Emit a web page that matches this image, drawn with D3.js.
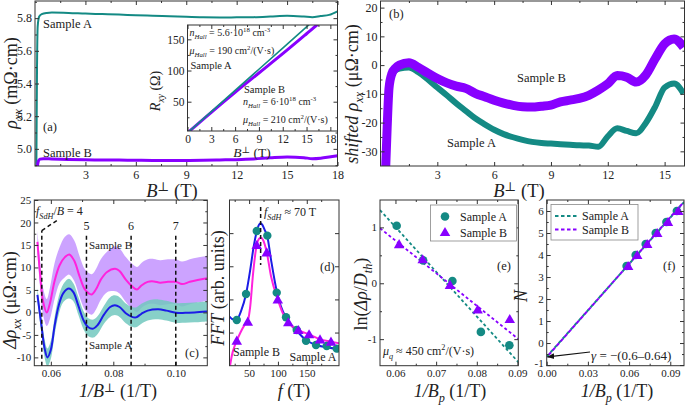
<!DOCTYPE html>
<html><head><meta charset="utf-8">
<script src="https://cdn.jsdelivr.net/npm/d3@7"></script>
<style>
body{margin:0;background:#fff;}
svg text, svg tspan{font-family:'Liberation Serif','Times New Roman','DejaVu Serif',serif !important;fill:#222;}
</style></head><body>
<svg id="c" width="685" height="406"></svg>
<script>
// ================= DATA =================
// (a) rho_xx vs B
const aB_A   = [0.08, 0.12, 0.16, 0.25, 0.4, 0.7, 1, 2, 3, 4, 5, 6, 7, 8, 9, 10, 11, 12, 13, 14, 15, 16, 16.5, 17, 17.5, 18];
const aRho_A = [4.88, 5.5, 5.75, 5.81, 5.825, 5.832, 5.834, 5.832, 5.828, 5.825, 5.822, 5.818, 5.815, 5.812, 5.808, 5.805, 5.804, 5.805, 5.806, 5.81, 5.815, 5.81, 5.806, 5.813, 5.82, 5.842];
const aB_B   = [0.12, 0.2, 0.3, 0.5, 1, 2, 3, 4, 5, 6, 7, 8, 9, 10, 11, 12, 13, 14, 15, 16, 16.5, 17, 17.5, 18];
const aRho_B = [4.88, 4.925, 4.937, 4.94, 4.938, 4.935, 4.933, 4.932, 4.931, 4.93, 4.929, 4.929, 4.929, 4.93, 4.932, 4.934, 4.938, 4.945, 4.95, 4.946, 4.94, 4.943, 4.95, 4.958];
// (a) inset R_xy vs B
const inB_A = [0, 3, 6, 9, 12, 15, 16.5];
const inR_A = [0, 34, 68, 102, 136, 170, 187];
const inB_B = [0, 3, 6, 9, 12, 15, 16.3, 18];
const inR_B = [0, 33, 65, 96, 127, 159, 173, 190];
// (b) shifted rho_xx
const bB     = [0.25, 0.35, 0.45, 0.6, 0.8, 1.0, 1.5, 2, 2.5, 3, 3.5, 4, 4.5, 5, 5.5, 6, 6.5, 7, 7.5, 8, 8.5, 9, 9.5, 10, 10.5, 11, 11.5, 12, 12.5, 13, 13.5, 14, 14.5, 15, 15.5, 16];
const bRho_B = [-40, -22, -8, -3, -1, 0, 0.8, -0.8, -2.8, -4.7, -6.2, -7.3, -8.1, -9.8, -11, -12.2, -13.2, -14, -14.5, -14.6, -14.3, -13.9, -12.8, -12.2, -11.6, -10.5, -8.7, -6.5, -3.6, -4.2, -5.9, -3.5, 2.2, 7.4, 9.1, 6.2];
const bRho_A = [-40, -22, -8, -3.5, -1.8, -1.2, -0.8, -2.5, -5, -7.8, -10.5, -13.3, -15.9, -18.5, -20.6, -22.5, -24, -25.1, -26, -26.7, -27.1, -27.3, -27.5, -27.7, -27.9, -28.0, -28.4, -24.8, -22, -22.9, -23.7, -20.2, -14.5, -7.8, -6.4, -9.9];
// (c) oscillations vs 1/B
const cA_x  = [0.0557, 0.0571, 0.0580, 0.0589, 0.0600, 0.0612, 0.0625, 0.0640, 0.0658, 0.0672, 0.0688, 0.0705, 0.0720, 0.0736, 0.0750, 0.0770, 0.0790, 0.0805, 0.0820, 0.0840, 0.0860, 0.0873, 0.0890, 0.0910, 0.0944, 0.0970, 0.1000, 0.1030, 0.1060, 0.1100];
const cA_y  = [3.9, -3.5, -8, -10, -8.3, -3, 1.5, 4.3, 5.3, 4.5, 1.5, -1.8, -3.3, -3.6, -2.8, -0.5, 1.2, 1.6, 1.2, -0.2, -1.0, -1.1, -0.3, 0.4, 0.7, 0.4, -0.1, -0.1, 0.0, 0.2];
const cA_hw = [1.5, 1.8, 2, 2, 2, 2, 2, 2, 2.2, 2, 2, 2, 2, 2, 2, 2, 2.2, 2.2, 2.2, 2.2, 2.2, 2.2, 2.2, 2.2, 2.2, 2.2, 2.2, 2.2, 2.2, 2.2];
const cB_x  = [0.0557, 0.0565, 0.0575, 0.0587, 0.0597, 0.0612, 0.0628, 0.0645, 0.0659, 0.0675, 0.0692, 0.0710, 0.0731, 0.0745, 0.0760, 0.0780, 0.0806, 0.0820, 0.0840, 0.0860, 0.0876, 0.0890, 0.0910, 0.0930, 0.0950, 0.0975, 0.1000, 0.1020, 0.1045, 0.1070, 0.1100];
const cB_y  = [15.7, 9, 2.5, 0.0, 2, 7, 10.5, 12.3, 12.9, 11.5, 8, 5, 4.0, 5.2, 7.3, 9.0, 9.7, 9.2, 7.3, 5.8, 5.1, 6.0, 6.8, 6.9, 6.6, 6.8, 6.8, 6.3, 6.8, 7.2, 7.6];
const cB_hw = [2.5, 3, 3, 3, 3.5, 4, 4, 4.5, 4.5, 4.5, 4.5, 4.5, 4.5, 4.5, 4.5, 4.5, 5, 5, 5, 5, 5, 5, 5, 5, 5, 5, 5, 5, 5, 5, 5];
const cN    = ["4", "5", "6", "7"];
const cN_x  = [0.0571, 0.0714, 0.0857, 0.1000];
// (d) FFT
const dA_f  = [28.6, 44.7, 63.3, 81.6, 97.9, 114, 132.6, 148.7, 166, 184.6, 201.9];
const dA_a  = [0.276, 0.433, 0.813, 0.785, 0.441, 0.292, 0.215, 0.151, 0.125, 0.119, 0.103];
const dB_f  = [28.6, 47.7, 63.3, 80.6, 99.7, 118, 135.4, 154, 173, 192];
const dB_a  = [0.151, 0.266, 0.728, 0.684, 0.40, 0.262, 0.215, 0.19, 0.159, 0.145];
const dA_cf = [16, 22, 28.6, 36, 44.7, 52, 58, 63.3, 67, 70, 73, 77, 81.6, 88, 97.9, 105, 114, 123, 132.6, 148.7, 166, 184.6, 206];
const dA_ca = [0.296, 0.28, 0.28, 0.33, 0.433, 0.58, 0.72, 0.81, 0.85, 0.86, 0.85, 0.82, 0.78, 0.64, 0.45, 0.36, 0.29, 0.245, 0.21, 0.155, 0.125, 0.112, 0.1];
const dB_cf = [17, 20, 24, 28.6, 35, 42, 47.7, 52, 57, 63.3, 67, 70, 74, 80.6, 88, 99.7, 108, 118, 135.4, 154, 173, 192, 206];
const dB_ca = [0.0, 0.06, 0.11, 0.15, 0.2, 0.245, 0.27, 0.36, 0.56, 0.73, 0.765, 0.772, 0.76, 0.684, 0.54, 0.40, 0.32, 0.262, 0.215, 0.189, 0.159, 0.145, 0.135];
const fSdH = 70;
// (e) Dingle plot
const eA_x = [0.0603, 0.0668, 0.0740, 0.0810, 0.0880];
const eA_y = [1.03, 0.41, 0.04, -0.87, -1.11];
const eB_x = [0.0609, 0.0667, 0.0734, 0.0802, 0.0881];
const eB_y = [0.70, 0.43, -0.03, -0.47, -0.64];
const eFitA_x = [0.0562, 0.0902], eFitA_y = [1.31, -1.41];
const eFitB_x = [0.0562, 0.0902], eFitB_y = [0.985, -0.997];
// (f) Landau fan
const fX = [0.0593, 0.0659, 0.0732, 0.0805, 0.0883, 0.0959];
const fN = [3.5, 4, 4.5, 5, 5.5, 6];
const fFitA_x = [0, 0.1], fFitA_y = [-0.62, 6.4];
const fFitB_x = [0, 0.1], fFitB_y = [-0.64, 6.42];

// ================= STYLE =================
const TEAL = "#148a84", PURPLE = "#8800ff", BLUE = "#1c1ce6", MAG = "#ff22dd";
const LPURPLE = "#c393ff", LTEAL = "#72c8be";
const SERIF = "'Liberation Serif','Times New Roman','DejaVu Serif',serif";
const svg = d3.select("#c");
const zip = (a, b) => a.map((v, i) => [v, b[i]]);
let clipN = 0;

function panel(o) {
  const g = svg.append("g");
  const x = d3.scaleLinear().domain(o.xd).range([o.x0, o.x1]);
  const y = d3.scaleLinear().domain(o.yd).range([o.y1, o.y0]);
  const id = "clip" + (clipN++);
  svg.append("clipPath").attr("id", id).append("rect")
    .attr("x", o.x0).attr("y", o.y0).attr("width", o.x1 - o.x0).attr("height", o.y1 - o.y0);
  if (o.bg) g.append("rect").attr("x", o.x0).attr("y", o.y0).attr("width", o.x1 - o.x0).attr("height", o.y1 - o.y0).attr("fill", "#fff");
  const plot = g.append("g").attr("clip-path", `url(#${id})`);
  const ax = g.append("g");
  const fs = o.fs || 11;
  function put(gen, tr, labels) {
    const a = ax.append("g").attr("transform", tr).call(gen);
    a.select(".domain").remove();
    a.selectAll("line").attr("stroke", "#333");
    a.selectAll("text").attr("font-size", fs).style("font-family", SERIF);
    if (!labels) a.selectAll("text").remove();
    return a;
  }
  put(d3.axisBottom(x).tickValues(o.xt).tickSize(-4).tickPadding(4).tickFormat(o.fx || (d => d)), `translate(0,${o.y1})`, !o.noXlab);
  put(d3.axisBottom(x).tickValues(o.xm || []).tickSize(-2), `translate(0,${o.y1})`, false);
  put(d3.axisTop(x).tickValues(o.xt).tickSize(-4), `translate(0,${o.y0})`, false);
  put(d3.axisTop(x).tickValues(o.xm || []).tickSize(-2), `translate(0,${o.y0})`, false);
  const yl = put(d3.axisLeft(y).tickValues(o.yt).tickSize(-4).tickPadding(3).tickFormat(o.fy || (d => d)), `translate(${o.x0},0)`, !o.noYlab);
  if (o.yLabShift) yl.selectAll("text").attr("dy", (d) => d === o.yLabShift[0] ? o.yLabShift[1] : "0.32em");
  put(d3.axisLeft(y).tickValues(o.ym || []).tickSize(-2), `translate(${o.x0},0)`, false);
  put(d3.axisRight(y).tickValues(o.yt).tickSize(-4), `translate(${o.x1},0)`, false);
  put(d3.axisRight(y).tickValues(o.ym || []).tickSize(-2), `translate(${o.x1},0)`, false);
  ax.append("rect").attr("x", o.x0).attr("y", o.y0).attr("width", o.x1 - o.x0).attr("height", o.y1 - o.y0)
    .attr("fill", "none").attr("stroke", "#333").attr("stroke-width", 1);
  return { g, plot, ax, x, y };
}

function rich(parent, x, y, parts, o = {}) {
  const size = o.size || 12;
  const t = parent.append("text").attr("x", x).attr("y", y).attr("font-size", size)
    .attr("text-anchor", o.anchor || "start");
  if (o.rotate) t.attr("transform", `rotate(${o.rotate},${x},${y})`);
  let cur = 0;
  parts.forEach(p => {
    if (typeof p === "string") p = { t: p };
    const sh = p.s === "sub" ? size * 0.3 : p.s === "sup" ? -size * (o.supShift || 0.38) : 0;
    const ts = t.append("tspan").text(p.t).attr("dy", sh - cur);
    cur = sh;
    if (p.s) ts.attr("font-size", size * 0.68);
    if (p.i) ts.attr("font-style", "italic");
  });
  return t;
}
const fmt2 = d => (d < 0 ? "-" : "") + d3.format(".2f")(Math.abs(d));
const fmtI = d => (d < 0 ? "-" : "") + Math.abs(d);
const lineGen = (p, curve) => d3.line().x(d => p.x(d[0])).y(d => p.y(d[1])).curve(curve || d3.curveLinear);

// ================= (a) =================
const pa = panel({ x0: 35, x1: 337.5, y0: 1, y1: 166, xd: [0, 18], yd: [4.895, 5.905],
  xt: [3, 6, 9, 12, 15, 18], xm: [1.5, 4.5, 7.5, 10.5, 13.5, 16.5], yt: [5.0, 5.2, 5.4, 5.6, 5.8],
  ym: [4.9, 5.1, 5.3, 5.5, 5.7, 5.9], fy: d3.format(".1f"), fs: 12 });
pa.plot.append("path").datum(zip(aB_A, aRho_A)).attr("d", lineGen(pa, d3.curveMonotoneX))
  .attr("fill", "none").attr("stroke", TEAL).attr("stroke-width", 2);
pa.plot.append("path").datum(zip(aB_B, aRho_B)).attr("d", lineGen(pa, d3.curveMonotoneX))
  .attr("fill", "none").attr("stroke", PURPLE).attr("stroke-width", 3);
pa.ax.append("text").attr("x", 43).attr("y", 28).attr("font-size", 12.5).text("Sample A");
pa.ax.append("text").attr("x", 43).attr("y", 131).attr("font-size", 12.5).text("(a)");
pa.ax.append("text").attr("x", 43).attr("y", 156.5).attr("font-size", 12.5).text("Sample B");
rich(svg, 17, 83, [{ t: "ρ", i: 1 }, { t: "xx", i: 1, s: "sub" }, " (mΩ·cm)"], { size: 18, anchor: "middle", rotate: -90 });
rich(svg, 172, 197, [{ t: "B", i: 1 }, { t: "⊥", s: "sup" }, " (T)"], { size: 18.5, anchor: "middle", supShift: 0.32 });

// inset
const pi = panel({ x0: 187.5, x1: 337.5, y0: 25, y1: 131, xd: [0, 18.9], yd: [3, 173], bg: true,
  xt: [0, 3, 6, 9, 12, 15, 18], xm: [1.5, 4.5, 7.5, 10.5, 13.5, 16.5], yt: [50, 100, 150], ym: [25, 75, 125], fs: 11.5 });
pi.plot.append("path").datum(zip(inB_B, inR_B)).attr("d", lineGen(pi, d3.curveMonotoneX))
  .attr("fill", "none").attr("stroke", PURPLE).attr("stroke-width", 3);
pi.plot.append("path").datum(zip(inB_A, inR_A)).attr("d", lineGen(pi))
  .attr("fill", "none").attr("stroke", TEAL).attr("stroke-width", 1.6);
rich(pi.ax, 189.5, 36, [{ t: "n", i: 1 }, { t: "Hall", i: 1, s: "sub" }, " = 5.6·10", { t: "18", s: "sup" }, " cm", { t: "-3", s: "sup" }], { size: 10 });
rich(pi.ax, 189.5, 54, [{ t: "μ", i: 1 }, { t: "Hall", i: 1, s: "sub" }, " = 190 cm", { t: "2", s: "sup" }, "/(V·s)"], { size: 10 });
pi.ax.append("text").attr("x", 190.5).attr("y", 69).attr("font-size", 10.5).text("Sample A");
pi.ax.append("text").attr("x", 244).attr("y", 92.5).attr("font-size", 10.5).text("Sample B");
rich(pi.ax, 243, 105, [{ t: "n", i: 1 }, { t: "Hall", i: 1, s: "sub" }, " = 6·10", { t: "18", s: "sup" }, " cm", { t: "-3", s: "sup" }], { size: 10 });
rich(pi.ax, 243, 123, [{ t: "μ", i: 1 }, { t: "Hall", i: 1, s: "sub" }, " = 210 cm", { t: "2", s: "sup" }, "/(V·s)"], { size: 10 });
rich(svg, 160, 91, [{ t: "R", i: 1 }, { t: "xy", i: 1, s: "sub" }, " (Ω)"], { size: 14, anchor: "middle", rotate: -90 });
rich(svg, 252, 157, [{ t: "B", i: 1 }, { t: "⊥", s: "sup" }, " (T)"], { size: 13.5, anchor: "middle", supShift: 0.3 });

// ================= (b) =================
const pb = panel({ x0: 380.5, x1: 684.5, y0: 1, y1: 166, xd: [0, 16.05], yd: [-35.1, 22.3],
  xt: [3, 6, 9, 12, 15], xm: [1.5, 4.5, 7.5, 10.5, 13.5], yt: [-30, -20, -10, 0, 10, 20],
  ym: [-25, -15, -5, 5, 15], fy: fmtI, fs: 12 });
pb.plot.append("path").datum(zip(bB, bRho_A)).attr("d", lineGen(pb, d3.curveMonotoneX))
  .attr("fill", "none").attr("stroke", TEAL).attr("stroke-width", 6).attr("stroke-linejoin", "round");
pb.plot.append("path").datum(zip(bB, bRho_B)).attr("d", lineGen(pb, d3.curveMonotoneX))
  .attr("fill", "none").attr("stroke", PURPLE).attr("stroke-width", 9).attr("stroke-linejoin", "round");
pb.ax.append("text").attr("x", 389).attr("y", 17.5).attr("font-size", 12.5).text("(b)");
pb.ax.append("text").attr("x", 517).attr("y", 81.5).attr("font-size", 12.5).text("Sample B");
pb.ax.append("text").attr("x", 447).attr("y", 147).attr("font-size", 12.5).text("Sample A");
rich(svg, 358, 94, [{ t: "shifted ρ", i: 1 }, { t: "xx", i: 1, s: "sub" }, " (μΩ·cm)"], { size: 18, anchor: "middle", rotate: -90 });
rich(svg, 519, 197, [{ t: "B", i: 1 }, { t: "⊥", s: "sup" }, " (T)"], { size: 18.5, anchor: "middle", supShift: 0.32 });

// ================= (c) =================
const pc = panel({ x0: 34.3, x1: 207.3, y0: 200, y1: 365.7, xd: [0.0547, 0.1101], yd: [-11.85, 25],
  xt: [0.06, 0.08, 0.10], xm: [0.07, 0.09], yt: [-10, -5, 0, 5, 10, 15, 20, 25],
  ym: [-7.5, -2.5, 2.5, 7.5, 12.5, 17.5, 22.5], fx: fmt2, fy: fmtI, fs: 11 });
const areaC = d3.area().x(d => pc.x(d[0])).y0(d => pc.y(d[1] - d[2])).y1(d => pc.y(d[1] + d[2])).curve(d3.curveCatmullRom);
pc.plot.append("path").datum(cB_x.map((v, i) => [v, cB_y[i], cB_hw[i]])).attr("d", areaC)
  .attr("fill", LPURPLE).attr("opacity", 0.85);
pc.plot.append("path").datum(cA_x.map((v, i) => [v, cA_y[i], cA_hw[i]])).attr("d", areaC)
  .attr("fill", LTEAL).attr("opacity", 0.85);
pc.plot.append("path").datum(zip(cA_x, cA_y)).attr("d", lineGen(pc, d3.curveCatmullRom))
  .attr("fill", "none").attr("stroke", BLUE).attr("stroke-width", 2);
pc.plot.append("path").datum(zip(cB_x, cB_y)).attr("d", lineGen(pc, d3.curveCatmullRom))
  .attr("fill", "none").attr("stroke", MAG).attr("stroke-width", 2);
cN_x.forEach((xv, i) => {
  pc.ax.append("line").attr("x1", pc.x(xv)).attr("x2", pc.x(xv)).attr("y1", pc.y(-11.85)).attr("y2", pc.y(i === 0 ? 18.2 : 17.6))
    .attr("stroke", "#111").attr("stroke-width", 1.5).attr("stroke-dasharray", "4,3");
  if (i > 0) pc.ax.append("text").attr("x", pc.x(xv)).attr("y", 230).attr("text-anchor", "middle").attr("font-size", 12).text(cN[i]);
});
pc.ax.append("line").attr("x1", pc.x(cN_x[0])).attr("y1", pc.y(18.2)).attr("x2", pc.x(0.0623)).attr("y2", pc.y(20.6))
  .attr("stroke", "#111").attr("stroke-width", 1.5).attr("stroke-dasharray", "4,3");
rich(pc.ax, 36, 215, [{ t: "f", i: 1 }, { t: "SdH", i: 1, s: "sub" }, "/", { t: "B", i: 1 }, " = " + cN[0]], { size: 12 });
pc.ax.append("text").attr("x", 89).attr("y", 249).attr("font-size", 11).text("Sample B");
pc.ax.append("text").attr("x", 89).attr("y", 348.5).attr("font-size", 11).text("Sample A");
pc.ax.append("text").attr("x", 185).attr("y", 357).attr("font-size", 12.5).text("(c)");
rich(svg, 16, 300, [{ t: "Δρ", i: 1 }, { t: "xx", i: 1, s: "sub" }, " (μΩ·cm)"], { size: 18, anchor: "middle", rotate: -90 });
rich(svg, 118, 397, [{ t: "1/B", i: 1 }, { t: "⊥", s: "sup" }, " (1/T)"], { size: 18, anchor: "middle", supShift: 0.28 });

// ================= (d) =================
const pd = panel({ x0: 229.5, x1: 339, y0: 200, y1: 365.7, xd: [16, 205.9], yd: [0, 1],
  xt: [50, 100, 150], xm: [25, 75, 125, 175], yt: [0.2, 0.4, 0.6, 0.8], noYlab: true, fs: 11 });
pd.plot.append("path").datum(zip(dA_cf, dA_ca)).attr("d", lineGen(pd, d3.curveMonotoneX))
  .attr("fill", "none").attr("stroke", BLUE).attr("stroke-width", 2);
pd.plot.append("path").datum(zip(dB_cf, dB_ca)).attr("d", lineGen(pd, d3.curveMonotoneX))
  .attr("fill", "none").attr("stroke", MAG).attr("stroke-width", 2);
pd.plot.selectAll("circle.a").data(zip(dA_f, dA_a)).join("circle")
  .attr("cx", d => pd.x(d[0])).attr("cy", d => pd.y(d[1])).attr("r", 4.2).attr("fill", TEAL);
const tri = d3.symbol(d3.symbolTriangle).size(48);
pd.plot.selectAll("path.b").data(zip(dB_f, dB_a)).join("path").attr("class", "b")
  .attr("d", tri).attr("transform", d => `translate(${pd.x(d[0])},${pd.y(d[1]) + 1})`).attr("fill", PURPLE);
pd.ax.append("line").attr("x1", pd.x(fSdH)).attr("x2", pd.x(fSdH)).attr("y1", 207).attr("y2", 265)
  .attr("stroke", "#111").attr("stroke-width", 1.5).attr("stroke-dasharray", "4,3");
rich(pd.ax, 264, 216, [{ t: "f", i: 1 }, { t: "SdH", i: 1, s: "sub" }, " ≈ " + fSdH + " T"], { size: 12 });
pd.ax.append("text").attr("x", 320).attr("y", 271).attr("font-size", 12.5).text("(d)");
pd.ax.append("text").attr("x", 233).attr("y", 356).attr("font-size", 12).text("Sample B");
pd.ax.append("text").attr("x", 289.5).attr("y", 361).attr("font-size", 12).text("Sample A");
rich(svg, 224, 288, [{ t: "FFT", i: 1 }, " (arb. units)"], { size: 18, anchor: "middle", rotate: -90 });
rich(svg, 294, 397, [{ t: "f", i: 1 }, " (T)"], { size: 18, anchor: "middle" });

// ================= (e) =================
const pe = panel({ x0: 380, x1: 518.3, y0: 200, y1: 365.7, xd: [0.0562, 0.0902], yd: [-1.475, 1.49],
  xt: [0.06, 0.07, 0.08, 0.09], xm: [0.065, 0.075, 0.085], yt: [-1, 0, 1], ym: [-0.5, 0.5], fx: fmt2, fy: fmtI, fs: 11 });
pe.plot.append("path").datum(zip(eFitA_x, eFitA_y)).attr("d", lineGen(pe))
  .attr("stroke", TEAL).attr("stroke-width", 1.8).attr("stroke-dasharray", "3,2.5");
pe.plot.append("path").datum(zip(eFitB_x, eFitB_y)).attr("d", lineGen(pe))
  .attr("stroke", PURPLE).attr("stroke-width", 1.8).attr("stroke-dasharray", "3,2.5");
pe.plot.selectAll("circle").data(zip(eA_x, eA_y)).join("circle")
  .attr("cx", d => pe.x(d[0])).attr("cy", d => pe.y(d[1])).attr("r", 4.3).attr("fill", TEAL);
pe.plot.selectAll("path.b").data(zip(eB_x, eB_y)).join("path").attr("class", "b")
  .attr("d", tri).attr("transform", d => `translate(${pe.x(d[0])},${pe.y(d[1]) + 1})`).attr("fill", PURPLE);
pe.ax.append("rect").attr("x", 430.5).attr("y", 205).attr("width", 86).attr("height", 36)
  .attr("fill", "#fff").attr("stroke", "#888").attr("stroke-width", 0.8);
pe.ax.append("circle").attr("cx", 445).attr("cy", 216.5).attr("r", 4.3).attr("fill", TEAL);
pe.ax.append("path").attr("d", tri).attr("transform", "translate(445,233)").attr("fill", PURPLE);
pe.ax.append("text").attr("x", 460).attr("y", 221).attr("font-size", 12).text("Sample A");
pe.ax.append("text").attr("x", 460).attr("y", 237).attr("font-size", 12).text("Sample B");
pe.ax.append("text").attr("x", 497).attr("y", 270).attr("font-size", 12.5).text("(e)");
rich(pe.ax, 383, 355, [{ t: "μ", i: 1 }, { t: "q", i: 1, s: "sub" }, " ≈ 450 cm", { t: "2", s: "sup" }, "/(V·s)"], { size: 12 });
rich(svg, 367, 294, ["ln(", { t: "Δρ", i: 1 }, "/", { t: "D", i: 1 }, { t: "th", i: 1, s: "sub" }, ")"], { size: 18, anchor: "middle", rotate: -90 });
rich(svg, 450, 397, [{ t: "1/B", i: 1 }, { t: "p", i: 1, s: "sub" }, " (1/T)"], { size: 18, anchor: "middle" });

// ================= (f) =================
const pf = panel({ x0: 546.7, x1: 684, y0: 200, y1: 365.7, xd: [0, 0.1], yd: [-1.03, 6.5],
  xt: [0, 0.03, 0.06, 0.09], xm: [0.015, 0.045, 0.075], yt: [-1, 0, 1, 2, 3, 4, 5, 6],
  ym: [-0.5, 0.5, 1.5, 2.5, 3.5, 4.5, 5.5], fx: fmt2, fy: fmtI, fs: 11, yLabShift: [-1, "0.1em"] });
pf.plot.selectAll("circle").data(zip(fX, fN)).join("circle")
  .attr("cx", d => pf.x(d[0]) - 1.5).attr("cy", d => pf.y(d[1])).attr("r", 4.3).attr("fill", TEAL);
pf.plot.append("path").datum(zip(fFitA_x, fFitA_y)).attr("d", lineGen(pf))
  .attr("stroke", TEAL).attr("stroke-width", 2).attr("stroke-dasharray", "3.5,2.5");
pf.plot.append("path").datum(zip(fFitB_x, fFitB_y)).attr("d", lineGen(pf))
  .attr("stroke", PURPLE).attr("stroke-width", 2).attr("stroke-dasharray", "3.5,2.5").attr("stroke-dashoffset", 3);
pf.plot.selectAll("path.b").data(zip(fX, fN)).join("path").attr("class", "b")
  .attr("d", tri).attr("transform", d => `translate(${pf.x(d[0])},${pf.y(d[1]) + 1})`).attr("fill", PURPLE);
pf.ax.append("rect").attr("x", 551).attr("y", 204.5).attr("width", 87).attr("height", 35.5)
  .attr("fill", "#fff").attr("stroke", "#888").attr("stroke-width", 0.8);
pf.ax.append("line").attr("x1", 555).attr("x2", 578).attr("y1", 216).attr("y2", 216)
  .attr("stroke", TEAL).attr("stroke-width", 2).attr("stroke-dasharray", "3.5,2.5");
pf.ax.append("line").attr("x1", 555).attr("x2", 578).attr("y1", 229.5).attr("y2", 229.5)
  .attr("stroke", PURPLE).attr("stroke-width", 2).attr("stroke-dasharray", "3.5,2.5");
pf.ax.append("text").attr("x", 582).attr("y", 220).attr("font-size", 12).text("Sample A");
pf.ax.append("text").attr("x", 582).attr("y", 234).attr("font-size", 12).text("Sample B");
pf.ax.append("text").attr("x", 663).attr("y", 270).attr("font-size", 12.5).text("(f)");
svg.append("defs").append("marker").attr("id", "arr").attr("viewBox", "0 0 10 10").attr("refX", 9).attr("refY", 5)
  .attr("markerWidth", 6).attr("markerHeight", 6).attr("orient", "auto")
  .append("path").attr("d", "M0,1 L10,5 L0,9 z").attr("fill", "#111");
pf.ax.append("line").attr("x1", 590).attr("y1", 352).attr("x2", pf.x(0) + 1).attr("y2", pf.y(-0.63))
  .attr("stroke", "#111").attr("stroke-width", 1.2).attr("marker-end", "url(#arr)");
rich(pf.ax, 591, 360, [{ t: "γ", i: 1 }, " = −(0.6–0.64)"], { size: 13 });
rich(svg, 527, 296, [{ t: "N", i: 1 }], { size: 18, anchor: "middle", rotate: -90 });
rich(svg, 617, 397, [{ t: "1/B", i: 1 }, { t: "p", i: 1, s: "sub" }, " (1/T)"], { size: 18, anchor: "middle" });

svg.selectAll("text").style("font-family", SERIF);
</script>
</body></html>
